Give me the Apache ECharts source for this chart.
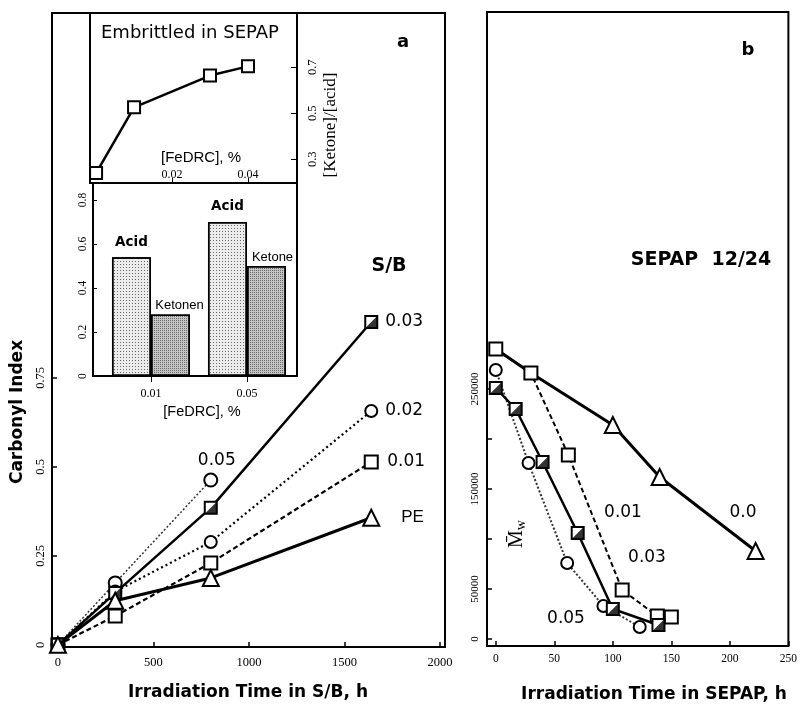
<!DOCTYPE html>
<html>
<head>
<meta charset="utf-8">
<script src="https://cdn.jsdelivr.net/npm/echarts@6/dist/echarts.min.js"></script>
<style>
  html, body { margin: 0; padding: 0; background: #fff; }
  #chart { width: 800px; height: 706px; }
</style>
</head>
<body>
<div id="chart"></div>
<script>
// ---------- Panel a: carbonyl index vs irradiation time in S/B ----------
const sbTime = [0, 300, 800, 1640];
const ci003 = [0, 0.146, 0.385, 0.907];
const ci002 = [0, 0.15, 0.289, 0.657];
const ci001 = [0, 0.081, 0.230, 0.514];
const ciPE = [0, 0.124, 0.188, 0.357];
const sbTime005 = [0, 300, 800];
const ci005 = [0, 0.174, 0.463];
const sbTicks = [0, 500, 1000, 1500, 2000];
const ciTicks = [0, 0.25, 0.5, 0.75];

// Inset: [Ketone]/[acid] ratio of samples embrittled in SEPAP
const embrFeDRC = [0, 0.01, 0.03, 0.04];
const ketoneAcid = [0.24, 0.526, 0.664, 0.704];
const ratioTicks = [0.3, 0.5, 0.7];
const fedrcTicks = [0.02, 0.04];

// Inset: acid / ketone bars per FeDRC content
const barCats = ['0.01', '0.05'];
const acidVals = [0.54, 0.70];
const ketoneVals = [0.28, 0.50];
const barTicks = [0, 0.2, 0.4, 0.6, 0.8];

// ---------- Panel b: Mw vs irradiation time in SEPAP 12/24 ----------
const b00Time = [0, 30, 100, 140, 222];
const b00Mw = [290000, 266000, 214000, 162000, 88000];
const b001Time = [0, 30, 62, 108, 138, 150];
const b001Mw = [290000, 266000, 184000, 49000, 23000, 22000];
const b003Time = [0, 17, 40, 70, 100, 139];
const b003Mw = [251000, 230000, 177000, 106000, 30000, 14000];
const b005Time = [0, 28, 61, 92, 123];
const b005Mw = [269000, 176000, 76000, 33000, 12000];
const sepapTicks = [0, 50, 100, 150, 200, 250];
const mwTicks = [0, 50000, 100000, 150000, 200000, 250000];
const mwLabels = [0, 50000, 150000, 250000];

const zip = (xs, ys) => xs.map((x, i) => [x, ys[i]]);

const SANS = 'Liberation Sans, Arial, sans-serif';
const WIDE = '"DejaVu Sans", Verdana, sans-serif';
const SERIF = 'Liberation Serif, Times New Roman, serif';
const HALF = 'path://M10,0L10,10L0,10Z';

const tickLabel = (size) => ({ color: '#000', fontFamily: SERIF, fontSize: size, formatter: v => String(v) });
const noLine = { show: false, onZero: false };

function lineSeries(xi, yi, data, opt) {
  return Object.assign({
    type: 'line', xAxisIndex: xi, yAxisIndex: yi, data: data,
    symbolSize: 12, showSymbol: true, animation: false,
    itemStyle: { color: '#fff', borderColor: '#000', borderWidth: 2 },
    lineStyle: { color: '#000', width: 2 }
  }, opt);
}
function halfFill(xi, yi, data, size, z) {
  return {
    type: 'scatter', xAxisIndex: xi, yAxisIndex: yi, data: data,
    symbol: HALF, symbolSize: size, z: z, animation: false, silent: true,
    itemStyle: { color: '#000' }
  };
}
function endLab(text, dist, font) {
  return { show: true, formatter: text, distance: dist, color: '#000',
           fontFamily: font || WIDE, fontSize: 17 };
}
function txt(x, y, text, font, extra) {
  return Object.assign({ type: 'text', x: x, y: y, z: 20,
    style: { text: text, font: font, fill: '#000', align: 'center', verticalAlign: 'middle' } }, extra);
}

const chart = echarts.init(document.getElementById('chart'), null, { renderer: 'canvas' });

const frame = { show: true, borderColor: '#000', borderWidth: 2, backgroundColor: 'transparent' };

const option = {
  animation: false,
  backgroundColor: '#fff',
  grid: [
    Object.assign({ left: 52, top: 13, width: 393, height: 634 }, frame),
    Object.assign({ left: 90, top: 13, width: 207, height: 170, z: 5 }, frame),
    Object.assign({ left: 93, top: 183, width: 204, height: 193, z: 5 }, frame),
    Object.assign({ left: 487, top: 12, width: 303, height: 634 }, frame)
  ],
  xAxis: [
    { type: 'value', gridIndex: 0, min: -31, max: 2026,
      axisLine: noLine, splitLine: { show: false },
      axisTick: { inside: true, length: 5, customValues: sbTicks, lineStyle: { color: '#000', width: 1.5 } },
      axisLabel: Object.assign(tickLabel(12.5), { customValues: sbTicks, margin: 9 }) },
    { type: 'value', gridIndex: 1, min: -0.0016, max: 0.0529,
      axisLine: noLine, splitLine: { show: false },
      axisTick: { inside: true, length: 5, customValues: fedrcTicks, lineStyle: { color: '#000' } },
      axisLabel: Object.assign(tickLabel(12), { inside: true, customValues: fedrcTicks, margin: 2 }) },
    { type: 'value', gridIndex: 2, min: 0.396, max: 2.521,
      axisLine: noLine, splitLine: { show: false },
      axisTick: { length: 6, customValues: [1, 2], lineStyle: { color: '#000' } },
      axisLabel: Object.assign(tickLabel(12), { customValues: [1, 2], margin: 12,
        formatter: v => barCats[Math.round(v) - 1] }) },
    { type: 'value', gridIndex: 3, min: -7.5, max: 250,
      axisLine: noLine, splitLine: { show: false },
      axisTick: { inside: true, length: 5, customValues: sepapTicks, lineStyle: { color: '#000', width: 1.5 } },
      axisLabel: Object.assign(tickLabel(11.5), { customValues: sepapTicks, margin: 7 }) }
  ],
  yAxis: [
    { type: 'value', gridIndex: 0, min: -0.006, max: 1.775,
      axisLine: noLine, splitLine: { show: false },
      axisTick: { inside: true, length: 5, customValues: ciTicks, lineStyle: { color: '#000', width: 1.5 } },
      axisLabel: Object.assign(tickLabel(12.5), { customValues: ciTicks, rotate: 90, margin: 5 }) },
    { type: 'value', gridIndex: 1, position: 'right', min: 0.197, max: 0.936,
      axisLine: noLine, splitLine: { show: false },
      axisTick: { inside: true, length: 6, customValues: ratioTicks, lineStyle: { color: '#000' } },
      axisLabel: Object.assign(tickLabel(12.5), { customValues: ratioTicks, rotate: 90, margin: 9 }) },
    { type: 'value', gridIndex: 2, min: 0, max: 0.877,
      axisLine: noLine, splitLine: { show: false },
      axisTick: { inside: true, length: 4, customValues: barTicks, lineStyle: { color: '#000' } },
      axisLabel: Object.assign(tickLabel(11.5), { customValues: barTicks, rotate: 90, margin: 4 }) },
    { type: 'value', gridIndex: 3, min: -7000, max: 627000,
      axisLine: noLine, splitLine: { show: false },
      axisTick: { inside: true, length: 5, customValues: mwTicks, lineStyle: { color: '#000', width: 1.5 } },
      axisLabel: Object.assign(tickLabel(11), { customValues: mwLabels, rotate: 90, margin: 6 }) }
  ],
  series: [
    // ----- panel a -----
    lineSeries(0, 0, zip(sbTime005, ci005).map((p, i, a) => i === a.length - 1
        ? { value: p, label: { show: true, position: 'top', distance: 3, formatter: '0.05',
            color: '#000', fontFamily: WIDE, fontSize: 17, offset: [6, 0] } } : p),
      { name: '0.05', symbol: 'circle', symbolSize: 13, z: 3,
        lineStyle: { color: '#333', width: 1.5, type: [2, 2] } }),
    lineSeries(0, 0, zip(sbTime, ci001),
      { name: '0.01', symbol: 'rect', symbolSize: 13, z: 4,
        lineStyle: { color: '#000', width: 2.2, type: [5, 3] }, endLabel: endLab('0.01', 16) }),
    lineSeries(0, 0, zip(sbTime, ci002),
      { name: '0.02', symbol: 'circle', symbolSize: 12, z: 4,
        lineStyle: { color: '#000', width: 2.2, type: [2, 3] }, endLabel: endLab('0.02', 14) }),
    lineSeries(0, 0, zip(sbTime, ci003),
      { name: '0.03', symbol: 'rect', symbolSize: 12, z: 5,
        lineStyle: { color: '#000', width: 2.5 }, endLabel: endLab('0.03', 14) }),
    halfFill(0, 0, zip(sbTime, ci003), 12, 6),
    lineSeries(0, 0, zip(sbTime, ciPE),
      { name: 'PE', symbol: 'triangle', symbolSize: 16, z: 7,
        lineStyle: { color: '#000', width: 3 }, endLabel: endLab('PE', 30, SANS) }),

    // ----- inset: ketone/acid ratio -----
    lineSeries(1, 1, zip(embrFeDRC, ketoneAcid),
      { name: '[Ketone]/[acid]', symbol: 'rect', symbolSize: 12, z: 8,
        lineStyle: { color: '#000', width: 2.5 } }),

    // ----- inset: acid & ketone bars -----
    { type: 'bar', name: 'Acid', xAxisIndex: 2, yAxisIndex: 2, z: 8,
      data: acidVals.map((v, i) => [i + 1, v]), barWidth: 39, barGap: '0%',
      itemStyle: { color: '#ececec', borderColor: '#000', borderWidth: 1.5,
        decal: { symbol: 'rect', symbolSize: 1, color: 'rgba(0,0,0,0.55)',
                 dashArrayX: [1, 2], dashArrayY: [1, 2], rotation: 0 } },
      label: { show: true, position: 'top', distance: 8, formatter: 'Acid',
               color: '#000', fontFamily: WIDE, fontWeight: 'bold', fontSize: 13.5 } },
    { type: 'bar', name: 'Ketone', xAxisIndex: 2, yAxisIndex: 2, z: 8,
      data: ketoneVals.map((v, i) => ({ value: [i + 1, v],
        label: { formatter: i === 0 ? 'Ketonen' : 'Ketone', offset: [i === 0 ? 9 : 6, 0] } })),
      barWidth: 39, barGap: '0%',
      itemStyle: { color: '#c4c4c4', borderColor: '#000', borderWidth: 1.5,
        decal: { symbol: 'rect', symbolSize: 1, color: 'rgba(0,0,0,0.45)',
                 dashArrayX: [1, 1], dashArrayY: [1, 1], rotation: 0 } },
      label: { show: true, position: 'top', distance: 2,
               color: '#000', fontFamily: SANS, fontSize: 13 } },

    // ----- panel b -----
    lineSeries(3, 3, zip(b00Time, b00Mw),
      { name: '0.0', symbol: (v, p) => p.dataIndex < 2 ? 'none' : 'triangle', symbolSize: 16, z: 3,
        lineStyle: { color: '#000', width: 3 } }),
    lineSeries(3, 3, zip(b001Time, b001Mw),
      { name: '0.01 ', symbol: 'rect', symbolSize: 13, z: 4,
        lineStyle: { color: '#000', width: 2, type: [5, 3] } }),
    lineSeries(3, 3, zip(b005Time, b005Mw),
      { name: '0.05 ', symbol: 'circle', symbolSize: 12, z: 4,
        lineStyle: { color: '#333', width: 2, type: [2, 2] } }),
    lineSeries(3, 3, zip(b003Time, b003Mw),
      { name: '0.03 ', symbol: 'rect', symbolSize: 12, z: 5,
        lineStyle: { color: '#000', width: 2.5 } }),
    halfFill(3, 3, zip(b003Time, b003Mw), 12, 6)
  ],
  graphic: [
    txt(403, 42, 'a', 'bold 18px ' + WIDE),
    txt(389, 266, 'S/B', 'bold 19px ' + WIDE),
    txt(101, 33, 'Embrittled in SEPAP', '18px ' + WIDE, { style: { text: 'Embrittled in SEPAP', font: '18px ' + WIDE, fill: '#000', align: 'left', verticalAlign: 'middle' } }),
    txt(201, 158, '[FeDRC], %', '15px ' + SANS),
    txt(331, 125, '[Ketone]/[acid]', '17px ' + SERIF, { rotation: Math.PI / 2 }),
    txt(202, 412, '[FeDRC], %', '14.5px ' + SANS),
    txt(18, 412, 'Carbonyl Index', 'bold 17px ' + WIDE, { rotation: Math.PI / 2 }),
    txt(248, 693, 'Irradiation Time in S/B, h', 'bold 17px ' + WIDE),
    txt(748, 50, 'b', 'bold 18px ' + WIDE),
    txt(701, 260, 'SEPAP  12/24', 'bold 19px ' + WIDE),
    txt(623, 513, '0.01', '17px ' + WIDE),
    txt(743, 513, '0.0', '17px ' + WIDE),
    txt(647, 558, '0.03', '17px ' + WIDE),
    txt(566, 619, '0.05', '17px ' + WIDE),
    { type: 'text', x: 517, y: 534, z: 20, rotation: Math.PI / 2,
      style: { text: '{m|M\u0304}{s|w}', align: 'center', verticalAlign: 'middle',
        rich: { m: { font: '20px ' + SERIF, fill: '#000' },
                s: { font: '14px ' + SERIF, fill: '#000', verticalAlign: 'bottom', padding: [8, 0, 0, 0] } } } },
    txt(654, 695, 'Irradiation Time in SEPAP, h', 'bold 17px ' + WIDE)
  ]
};

chart.setOption(option);
</script>
</body>
</html>
